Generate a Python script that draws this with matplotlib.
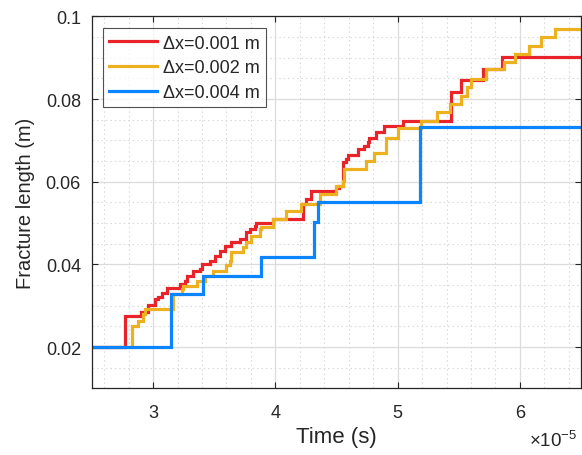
import numpy as np
import matplotlib
matplotlib.use("Agg")
import matplotlib.pyplot as plt
from matplotlib.ticker import FuncFormatter, MultipleLocator

plt.rcParams['font.family'] = ['Liberation Sans', 'DejaVu Sans']
plt.rcParams['mathtext.fontset'] = 'custom'
plt.rcParams['mathtext.rm'] = 'Liberation Sans'
plt.rcParams['mathtext.it'] = 'Liberation Sans:italic'

# Fracture length histories (time in units of 1e-5 s, length in m)
t_dx001 = [2.50, 2.771, 2.902, 2.961, 3.016, 3.043, 3.074, 3.111, 3.220, 3.260, 3.274,
           3.328, 3.383, 3.396, 3.464, 3.505, 3.546, 3.586, 3.641, 3.709, 3.763,
           3.790, 3.831, 3.845, 3.980, 4.225, 4.253, 4.293, 4.497, 4.524, 4.551,
           4.578, 4.591, 4.673, 4.727, 4.754, 4.768, 4.823, 4.890, 5.040, 5.434,
           5.516, 5.701, 5.855, 6.50]
L_dx001 = [0.0200, 0.0274, 0.0284, 0.0302, 0.0316, 0.0320, 0.0331, 0.0343, 0.0353, 0.0361, 0.0371,
           0.0385, 0.0389, 0.0401, 0.0409, 0.0421, 0.0433, 0.0445, 0.0453, 0.0461, 0.0478,
           0.0486, 0.0494, 0.0499, 0.0510, 0.0546, 0.0558, 0.0578, 0.0586, 0.0590, 0.0647,
           0.0655, 0.0665, 0.0679, 0.0687, 0.0695, 0.0705, 0.0721, 0.0735, 0.0748, 0.0816,
           0.0846, 0.0873, 0.0901, 0.0901]

t_dx002 = [2.50, 2.826, 2.880, 2.921, 2.934, 3.165, 3.233, 3.247, 3.356, 3.423, 3.491,
           3.600, 3.627, 3.641, 3.736, 3.763, 3.804, 3.872, 3.886, 3.980, 4.089,
           4.211, 4.361, 4.497, 4.551, 4.565, 4.741, 4.809, 4.904, 4.999, 5.189,
           5.325, 5.428, 5.516, 5.569, 5.600, 5.719, 5.868, 5.964, 6.072, 6.170,
           6.290, 6.50]
L_dx002 = [0.0200, 0.0252, 0.0264, 0.0280, 0.0292, 0.0329, 0.0341, 0.0348, 0.0361, 0.0371, 0.0385,
           0.0398, 0.0409, 0.0429, 0.0441, 0.0453, 0.0469, 0.0486, 0.0490, 0.0510, 0.0530,
           0.0546, 0.0570, 0.0590, 0.0602, 0.0631, 0.0649, 0.0669, 0.0707, 0.0731, 0.0748,
           0.0768, 0.0788, 0.0808, 0.0828, 0.0848, 0.0873, 0.0889, 0.0909, 0.0929, 0.0949,
           0.0969, 0.0969]

t_dx004 = [2.50, 3.150, 3.410, 3.880, 4.320, 4.350, 5.180, 6.50]
L_dx004 = [0.0200, 0.0329, 0.0373, 0.0417, 0.0502, 0.0550, 0.0733, 0.0733]

labels = ['Δx=0.001 m', 'Δx=0.002 m', 'Δx=0.004 m']
colors = ['#E8232A', '#EDB120', '#0A85FF']

fig = plt.figure(figsize=(5.82, 4.56), dpi=100)
ax = fig.add_axes([92 / 582, (456 - 389.4) / 456, 489 / 582, 372 / 456])

scale = 1e-5
series = [(t_dx001, L_dx001), (t_dx002, L_dx002), (t_dx004, L_dx004)]
for (t, L), c, lab in zip(series, colors, labels):
    ax.plot(np.array(t) * scale, L, drawstyle='steps-post', color=c, lw=2.3,
            label=lab, solid_joinstyle='miter')

ax.set_xlim(2.5e-5, 6.5e-5)
ax.set_ylim(0.01, 0.1)
ax.xaxis.set_major_locator(MultipleLocator(1e-5))
ax.xaxis.set_minor_locator(MultipleLocator(0.2e-5))
ax.xaxis.set_major_formatter(FuncFormatter(lambda v, _: f'{v / scale:g}'))
ax.set_yticks([0.02, 0.04, 0.06, 0.08, 0.1])
ax.set_yticklabels(['0.02', '0.04', '0.06', '0.08', '0.1'])
ax.yaxis.set_minor_locator(MultipleLocator(0.005))

txt = '#262626'
ax.grid(which='major', color='#DCDCDC', lw=0.9, ls='-')
ax.grid(which='minor', color='#DCDCDC', lw=0.8, ls=(0, (1.5, 2.5)))
ax.set_axisbelow(True)
ax.tick_params(which='major', direction='in', length=4, width=0.8, top=True, right=True,
               colors=txt, labelsize=13)
ax.tick_params(axis='x', which='major', pad=11)
ax.tick_params(axis='y', which='major', pad=8)
ax.tick_params(which='minor', length=0, top=True, right=True)
for s in ax.spines.values():
    s.set_color(txt)
    s.set_linewidth(0.9)

# exponent of the time axis, placed at the lower right like a multiplier label
ax.text(0.992, -0.155, r'$\times10^{-5}$', transform=ax.transAxes, ha='right',
        va='baseline', fontsize=13.5, color=txt)

ax.set_xlabel('Time (s)', fontsize=16, color=txt, labelpad=4)
ax.set_ylabel('Fracture length (m)', fontsize=14.5, color=txt, labelpad=8)

leg = ax.legend(loc='upper left', bbox_to_anchor=(11 / 489, 1 - 12 / 372), borderaxespad=0,
                fontsize=13, frameon=True, fancybox=False, edgecolor='#262626',
                handlelength=2.65, handletextpad=0.3, labelspacing=0.42,
                borderpad=0.35)
leg.get_frame().set_linewidth(0.8)
for t in leg.get_texts():
    t.set_color(txt)

fig.savefig('out.png', dpi=100)
